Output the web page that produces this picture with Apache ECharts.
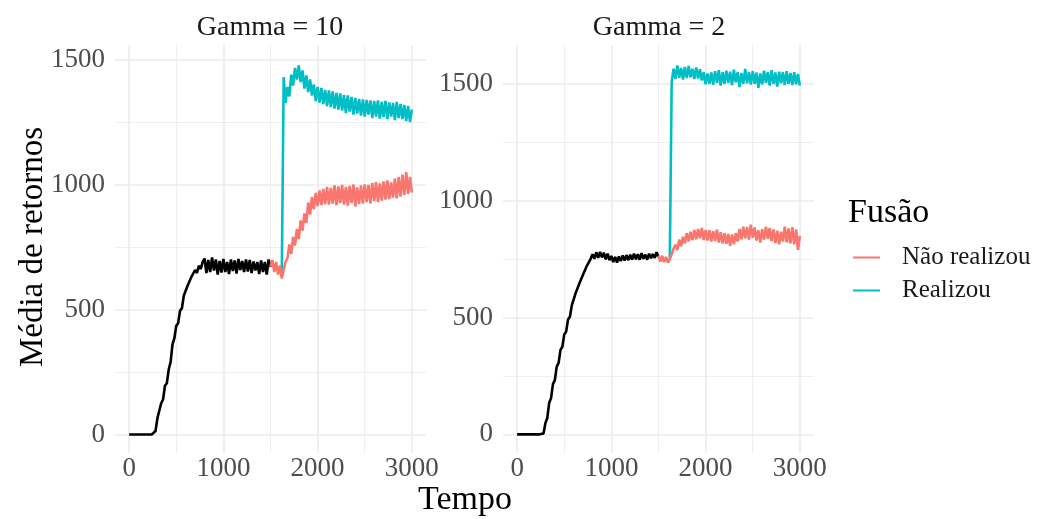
<!DOCTYPE html>
<html>
<head>
<meta charset="utf-8">
<script src="https://cdn.jsdelivr.net/npm/echarts@6/dist/echarts.min.js"></script>
<style>
  html, body { margin: 0; padding: 0; background: #fff; }
  #chart { width: 1046px; height: 519px; }
</style>
</head>
<body>
<div id="chart"></div>
<script>
const STEP = 20; // tempo entre pontos

const xTicks = [0, 1000, 2000, 3000];
const xMinor = [500, 1500, 2500];
const yTicks = [0, 500, 1000, 1500];
const yMinor = [250, 750, 1250];

const panels = ["Gamma = 10", "Gamma = 2"];
const groups = ["Não realizou", "Realizou"];

// Gamma = 10
const black1Start = 0;
const black1 = [
  0, 0, 0, 0, 0, 0, 0, 0, 0, 0,
  0, 0, 0, 8, 14, 65, 72, 125, 140, 195,
  205, 260, 290, 360, 385, 435, 445, 495, 505, 555,
  555, 595, 592, 630, 626, 658, 646, 675, 662, 690,
  704, 646, 698, 650, 708, 656, 700, 640, 694, 648,
  702, 650, 690, 642, 700, 654, 696, 644, 702, 658,
  694, 650, 700, 652, 698, 646, 692, 656, 690, 642,
  696, 650, 690, 640, 700, 670
];
const red1Start = 1500;
const red1 = [
  672, 698, 650, 690, 640, 676, 624, 660, 690, 706,
  760, 722, 790, 756, 822, 782, 856, 816, 884, 846,
  928, 880, 950, 902, 966, 914, 976, 918, 982, 922,
  990, 920, 986, 924, 996, 918, 992, 926, 998, 920,
  990, 916, 994, 926, 1000, 912, 988, 922, 996, 924,
  1000, 930, 998, 924, 1006, 934, 1010, 930, 1004, 936,
  1012, 940, 1016, 942, 1008, 948, 1024, 944, 1030, 952,
  1040, 958, 1050, 962, 1030, 968
];
const cyan1Start = 1620;
const cyan1 = [
  646, 1430, 1326, 1390, 1352, 1440, 1396, 1466, 1420, 1476,
  1410, 1456, 1384, 1436, 1370, 1420, 1356, 1400, 1334, 1390,
  1328, 1386, 1322, 1378, 1314, 1376, 1310, 1372, 1304, 1366,
  1300, 1364, 1296, 1358, 1286, 1356, 1292, 1350, 1280, 1346,
  1284, 1342, 1276, 1340, 1272, 1338, 1280, 1336, 1266, 1334,
  1272, 1336, 1264, 1330, 1270, 1334, 1262, 1328, 1272, 1326,
  1258, 1330, 1266, 1322, 1262, 1318, 1254, 1314, 1250, 1300
];

// Gamma = 2
const black2Start = 0;
const black2 = [
  0, 0, 0, 0, 0, 0, 0, 0, 0, 0,
  0, 0, 0, 6, 4, 48, 70, 135, 155, 215,
  232, 290, 306, 362, 375, 428, 440, 492, 504, 552,
  560, 604, 606, 646, 645, 685, 684, 722, 718, 752,
  772, 752, 780, 756, 782, 758, 778, 750, 774, 746,
  764, 738, 760, 736, 762, 742, 766, 744, 768, 746,
  770, 748, 774, 750, 772, 748, 776, 752, 770, 748,
  774, 754, 772, 756, 780, 760
];
const red2Start = 1500;
const red2 = [
  766, 740, 764, 738, 760, 736, 752, 772, 796, 812,
  790, 834, 806, 846, 818, 862, 826, 868, 832, 876,
  836, 880, 840, 884, 832, 876, 830, 874, 826, 870,
  828, 878, 822, 866, 818, 862, 816, 858, 808, 856,
  814, 862, 826, 880, 836, 890, 840, 888, 834, 898,
  842, 886, 830, 874, 822, 880, 834, 890, 838, 884,
  828, 878, 820, 872, 814, 868, 826, 890, 822, 882,
  818, 888, 814, 878, 790, 850
];
const cyan2Start = 1620;
const cyan2 = [
  754, 1510, 1566, 1522, 1580, 1528, 1570, 1520, 1574, 1526,
  1578, 1530, 1566, 1522, 1572, 1524, 1564, 1516, 1552, 1500,
  1546, 1502, 1550, 1498, 1556, 1506, 1560, 1494, 1552, 1502,
  1558, 1506, 1554, 1496, 1562, 1508, 1552, 1488, 1548, 1502,
  1566, 1504, 1552, 1498, 1556, 1502, 1550, 1484, 1546, 1500,
  1558, 1506, 1552, 1494, 1560, 1502, 1550, 1490, 1554, 1504,
  1552, 1496, 1556, 1502, 1548, 1496, 1552, 1500, 1544, 1494
];

const FONT = "Liberation Serif";
const RED = "#F8766D";
const CYAN = "#00BFC4";
const GRID = "#EBEBEB";

const toPoints = (start, vals) => vals.map((v, i) => [start + i * STEP, v]);

const grids = [
  { left: 115, top: 45, width: 311, height: 408 },
  { left: 503, top: 45, width: 311, height: 408 },
];
const yRanges = [[-74, 1558], [-80, 1668]];
const plain = (v) => String(v);

const xAxes = [];
const yAxes = [];
grids.forEach((g, i) => {
  xAxes.push({
    type: "value", gridIndex: i, min: -150, max: 3150,
    axisLine: { show: false },
    axisTick: { show: false, customValues: xTicks },
    axisLabel: { customValues: xTicks, formatter: plain, color: "#4D4D4D", fontFamily: FONT, fontSize: 27, margin: 2 },
    splitLine: { show: true, lineStyle: { color: GRID, width: 1.6 } },
  });
  xAxes.push({
    type: "value", gridIndex: i, min: -150, max: 3150,
    axisLine: { show: false },
    axisTick: { show: false, customValues: xMinor },
    axisLabel: { show: false },
    splitLine: { show: true, lineStyle: { color: GRID, width: 0.8 } },
  });
  yAxes.push({
    type: "value", gridIndex: i, min: yRanges[i][0], max: yRanges[i][1],
    axisLine: { show: false },
    axisTick: { show: false, customValues: yTicks },
    axisLabel: { customValues: yTicks, formatter: plain, color: "#4D4D4D", fontFamily: FONT, fontSize: 27, margin: 10 },
    splitLine: { show: true, lineStyle: { color: GRID, width: 1.6 } },
  });
  yAxes.push({
    type: "value", gridIndex: i, min: yRanges[i][0], max: yRanges[i][1],
    axisLine: { show: false },
    axisTick: { show: false, customValues: yMinor },
    axisLabel: { show: false },
    splitLine: { show: true, lineStyle: { color: GRID, width: 0.8 } },
  });
});

const lineSeries = (name, color, data, panel) => ({
  name, type: "line", data,
  xAxisIndex: panel * 2, yAxisIndex: panel * 2,
  symbol: "none", silent: true,
  lineStyle: { color, width: 2.6 },
  itemStyle: { color },
});

const series = [
  lineSeries("Antes", "#000000", toPoints(black1Start, black1), 0),
  lineSeries(groups[1], CYAN, toPoints(cyan1Start, cyan1), 0),
  lineSeries(groups[0], RED, toPoints(red1Start, red1), 0),
  lineSeries("Antes", "#000000", toPoints(black2Start, black2), 1),
  lineSeries(groups[1], CYAN, toPoints(cyan2Start, cyan2), 1),
  lineSeries(groups[0], RED, toPoints(red2Start, red2), 1),
];

const txt = (text, x, y, size, extra) => ({
  type: "text", x, y,
  style: Object.assign({ text, fontFamily: FONT, fontSize: size, fill: "#1A1A1A", textAlign: "center", textVerticalAlign: "middle" }, extra || {}),
});

const chart = echarts.init(document.getElementById("chart"));
chart.setOption({
  animation: false,
  backgroundColor: "#ffffff",
  grid: grids,
  xAxis: xAxes,
  yAxis: yAxes,
  legend: {
    orient: "vertical", left: 848, top: 240,
    data: groups, icon: "rect", itemWidth: 27, itemHeight: 2, itemGap: 8,
    selectedMode: false,
    textStyle: { fontFamily: FONT, fontSize: 25, color: "#1A1A1A", padding: [0, 0, 0, 17] },
  },
  series,
  graphic: [
    txt(panels[0], 270, 28, 28),
    txt(panels[1], 659, 28, 28),
    txt("Tempo", 465, 500, 34, { fill: "#000" }),
    Object.assign(txt("Média de retornos", 0, 0, 33, { fill: "#000" }), { x: 33, y: 247, rotation: Math.PI / 2 }),
    txt("Fusão", 848, 213, 34, { fill: "#000", textAlign: "left" }),
  ],
});
</script>
</body>
</html>
